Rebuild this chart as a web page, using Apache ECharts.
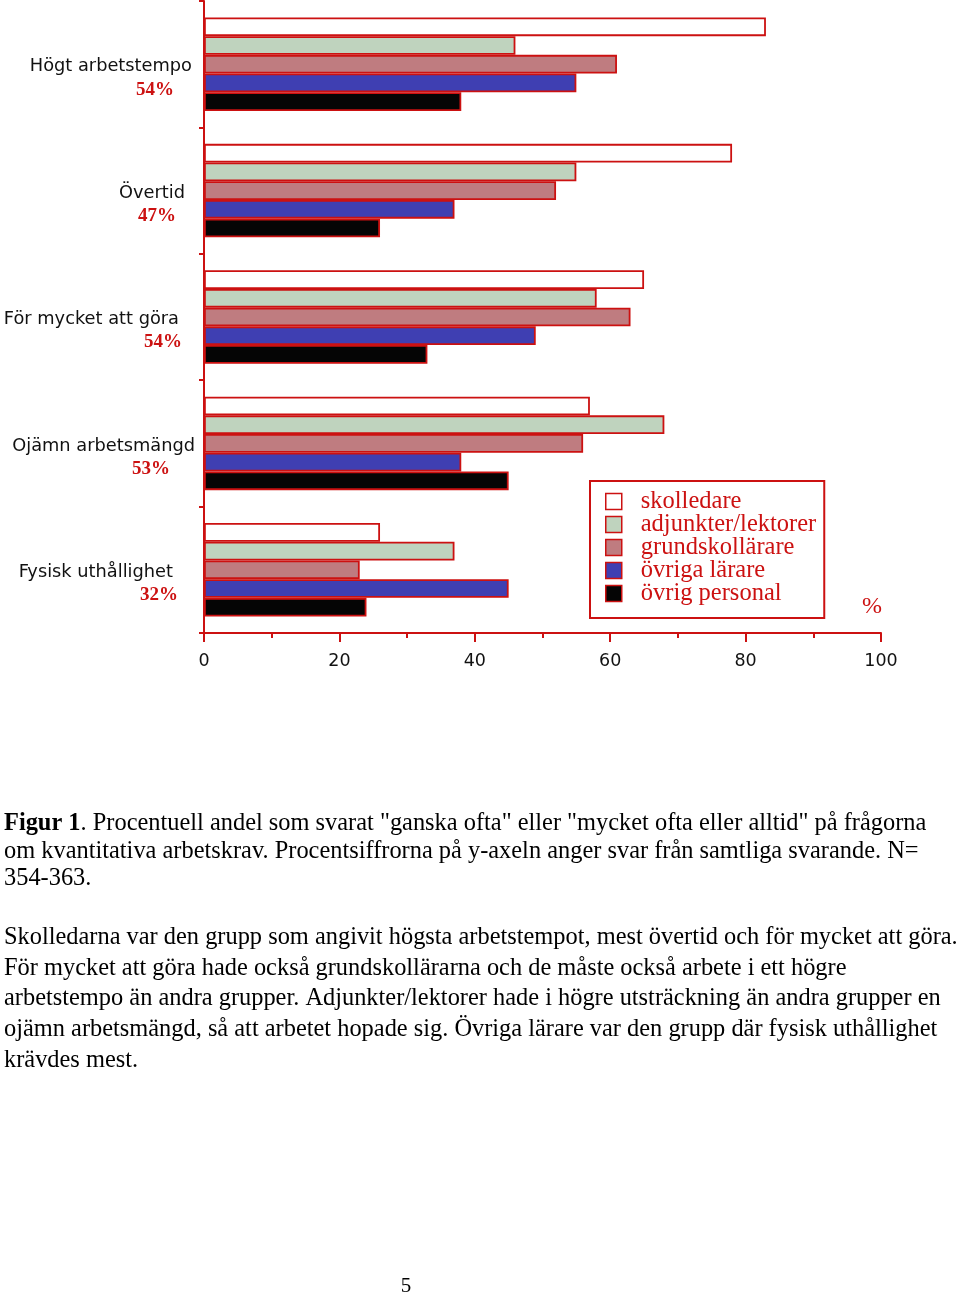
<!DOCTYPE html>
<html>
<head>
<meta charset="utf-8">
<script src="https://cdn.jsdelivr.net/npm/echarts@6/dist/echarts.min.js"></script>
<style>
html,body{margin:0;padding:0;background:#fff;}
#chart{width:960px;height:1297px;}
</style>
</head>
<body>
<div id="chart"></div>
<script>
// ---- data ----
const categories = ['Högt arbetstempo', 'Övertid', 'För mycket att göra', 'Ojämn arbetsmängd', 'Fysisk uthållighet'];
const totalPct = ['54%', '47%', '54%', '53%', '32%'];
const seriesNames = ['skolledare', 'adjunkter/lektorer', 'grundskollärare', 'övriga lärare', 'övrig personal'];
const skolledare = [83, 78, 65, 57, 26];
const adjunkter = [46, 55, 58, 68, 37];
const grundskollarare = [61, 52, 63, 56, 23];
const ovrigaLarare = [55, 37, 49, 38, 45];
const ovrigPersonal = [38, 26, 33, 45, 24];
const xTicks = [0, 20, 40, 60, 80, 100];

const captionLines = [
  '{b|Figur 1}. Procentuell andel som svarat "ganska ofta" eller "mycket ofta eller alltid" på frågorna',
  'om kvantitativa arbetskrav. Procentsiffrorna på y-axeln anger svar från samtliga svarande. N=',
  '354-363.'
];
const paragraphLines = [
  'Skolledarna var den grupp som angivit högsta arbetstempot, mest övertid och för mycket att göra.',
  'För mycket att göra hade också grundskollärarna och de måste också arbete i ett högre',
  'arbetstempo än andra grupper. Adjunkter/lektorer hade i högre utsträckning än andra grupper en',
  'ojämn arbetsmängd, så att arbetet hopade sig. Övriga lärare var den grupp där fysisk uthållighet',
  'krävdes mest.'
];

// ---- style ----
const RED = '#cc1111';
const fills = ['#ffffff', '#bfd3be', '#bf7c80', '#3f3fb2', '#050505'];
const seriesData = [skolledare, adjunkter, grundskollarare, ovrigaLarare, ovrigPersonal];
const namePad = [4, 11, 17, 1, 23];
const pctPad = [22, 20, 14, 26, 18];

const rich = {};
categories.forEach((c, i) => {
  rich['n' + i] = {fontFamily: 'DejaVu Sans', fontSize: 17.8, color: '#111', lineHeight: 23, align: 'right', padding: [0, namePad[i], 0, 0]};
  rich['p' + i] = {fontFamily: 'Liberation Serif', fontWeight: 'bold', fontSize: 19, color: RED, lineHeight: 23, align: 'right', padding: [0, pctPad[i], 0, 0]};
});

const chart = echarts.init(document.getElementById('chart'), null, {renderer: 'canvas'});

const FS = 24.4;
const graphics = [];
graphics.push({type: 'text', x: 872, y: 607, style: {text: '%', fontFamily: 'Liberation Serif', fontSize: 24, fill: RED, align: 'center', verticalAlign: 'middle'}});
captionLines.forEach((t, i) => {
  graphics.push({type: 'text', x: 4, y: [824, 852, 879][i], style: {
    text: t, fontFamily: 'Liberation Serif', fontSize: FS, fill: '#000', verticalAlign: 'middle',
    rich: {b: {fontFamily: 'Liberation Serif', fontSize: FS, fontWeight: 'bold', fill: '#000'}}
  }});
});
paragraphLines.forEach((t, i) => {
  graphics.push({type: 'text', x: 4, y: [938, 969, 999, 1030, 1061][i], style: {
    text: t, fontFamily: 'Liberation Serif', fontSize: FS, fill: '#000', verticalAlign: 'middle'
  }});
});
graphics.push({type: 'text', x: 406, y: 1286, style: {text: '5', fontFamily: 'Liberation Serif', fontSize: 21, fill: '#000', align: 'center', verticalAlign: 'middle'}});

const option = {
  animation: false,
  backgroundColor: '#fff',
  grid: {left: 204, right: 79, top: 1, height: 632, containLabel: false},
  legend: {
    orient: 'vertical', left: 590, top: 481,
    data: seriesNames,
    itemWidth: 16, itemHeight: 16, itemGap: -2,
    icon: 'rect',
    borderColor: RED, borderWidth: 2,
    padding: [8, 8, 12, 15],
    textStyle: {fontFamily: 'Liberation Serif', fontSize: 24.5, color: RED, padding: [0, 0, 0, 14]},
    itemStyle: {borderColor: RED, borderWidth: 1.5}
  },
  xAxis: {
    type: 'value', min: xTicks[0], max: xTicks[xTicks.length - 1], interval: 20,
    axisLine: {show: true, lineStyle: {color: RED, width: 2}},
    axisTick: {show: true, length: 9, lineStyle: {color: RED, width: 2}},
    minorTick: {show: true, splitNumber: 2, length: 5, lineStyle: {color: RED, width: 2}},
    splitLine: {show: false},
    axisLabel: {margin: 19, color: '#111', fontFamily: 'DejaVu Sans', fontSize: 17.5}
  },
  yAxis: {
    type: 'category', data: categories, inverse: true,
    axisLine: {show: true, lineStyle: {color: RED, width: 2}},
    axisTick: {show: true, length: 5, lineStyle: {color: RED, width: 2}},
    axisLabel: {
      margin: 8, align: 'right', verticalAlign: 'middle', padding: [28, 0, 0, 0],
      formatter: (v, i) => '{n' + i + '|' + v + '}\n{p' + i + '|' + totalPct[i] + '}',
      rich: rich
    }
  },
  graphic: graphics,
  series: seriesNames.map((n, i) => ({
    name: n, type: 'bar', data: seriesData[i],
    barGap: '0%', barCategoryGap: '26%',
    itemStyle: {color: fills[i], borderColor: RED, borderWidth: 1.8}
  }))
};
chart.setOption(option);
</script>
</body>
</html>
